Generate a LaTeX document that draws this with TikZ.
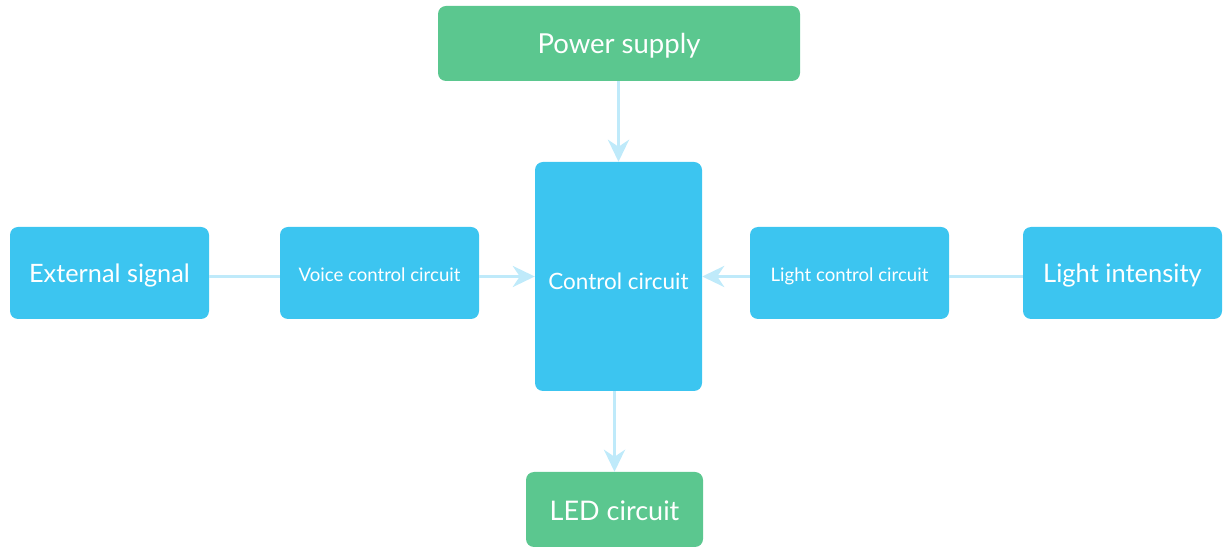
\documentclass[tikz,border=0pt]{standalone}
\usepackage{fontspec}
\setmainfont{Lato}
\usetikzlibrary{arrows.meta}
\definecolor{boxblue}{HTML}{3CC5F0}
\definecolor{boxgreen}{HTML}{5BC78F}
\definecolor{arrowblue}{HTML}{BFEAFA}
\tikzset{
  blk/.style={fill=boxblue, draw=none, rounded corners=8pt, text=white, inner sep=0pt, text depth=0pt},
  gblk/.style={blk, fill=boxgreen},
  conn/.style={draw=arrowblue, line width=3.5pt},
  arr/.style={conn, -{Stealth[length=22pt,width=21pt,inset=7pt]}},
}
\begin{document}
\begin{tikzpicture}[x=1pt,y=1pt]
\useasboundingbox (0,0) rectangle (1223,546);
\node[gblk, minimum width=362pt, minimum height=75pt, text height=20pt, font=\fontsize{27.5}{30}\selectfont] (power) at (619,502.5) {Power supply};
\node[blk, minimum width=167pt, minimum height=229pt, text height=26pt, font=\fontsize{22.5}{26}\selectfont] (control) at (618.5,269.5) {Control circuit};
\node[blk, minimum width=199pt, minimum height=92pt, text height=20pt, font=\fontsize{25.3}{28}\selectfont] (ext) at (109.5,273) {External signal};
\node[blk, minimum width=199pt, minimum height=92pt, text height=18pt, font=\fontsize{18.6}{22}\selectfont] (voice) at (379.5,273) {Voice control circuit};
\node[blk, minimum width=199pt, minimum height=92pt, text height=18pt, font=\fontsize{18.6}{22}\selectfont] (lightc) at (849.5,273) {Light control circuit};
\node[blk, minimum width=199pt, minimum height=92pt, text height=20pt, font=\fontsize{25.5}{28}\selectfont] (lighti) at (1122.5,273) {Light intensity};
\node[gblk, minimum width=177pt, minimum height=75pt, text height=22pt, font=\fontsize{27}{30}\selectfont] (led) at (614.5,36.5) {LED circuit};
\draw[arr] (power.south -| control) -- (control.north);
\draw[arr] (control.south -| led) -- (led.north);
\draw[conn] (ext.east |- control) -- (voice.west |- control);
\draw[arr] (voice.east |- control) -- (control.west);
\draw[conn] (lighti.west |- control) -- (lightc.east |- control);
\draw[arr] (lightc.west |- control) -- (control.east);
\end{tikzpicture}
\end{document}
